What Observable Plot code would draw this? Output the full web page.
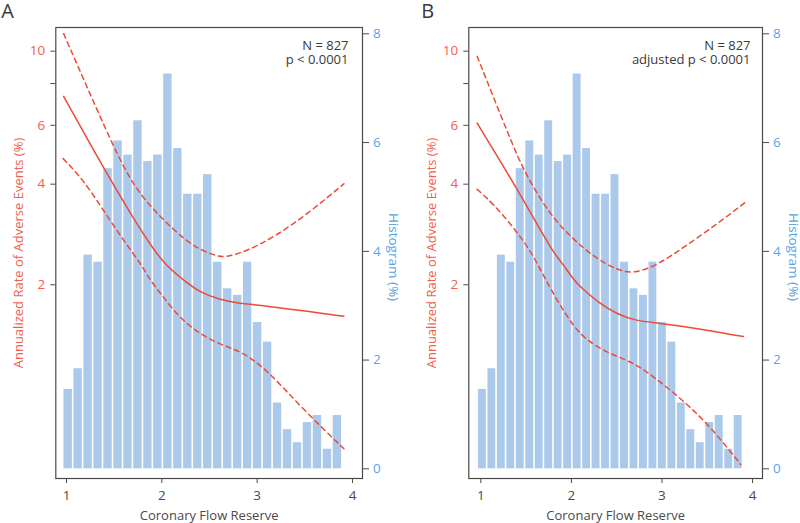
<!DOCTYPE html>
<html>
<head>
<meta charset="utf-8">
<script src="https://cdn.jsdelivr.net/npm/d3@7"></script>
<script src="https://cdn.jsdelivr.net/npm/@observablehq/plot@0.6"></script>
<style>
  body { margin: 0; background: #fff; }
  #wrap { display: flex; width: 800px; height: 523px; }
  .panel { position: relative; width: 400px; height: 523px; }
  .panel svg { position: absolute; left: 0; top: 0; }
</style>
</head>
<body>
<div id="wrap"><div class="panel" id="pa"></div><div class="panel" id="pb"></div></div>
<script>
// ---------- data ----------
const histEdges = [0.965, 1.070, 1.174, 1.279, 1.383, 1.488, 1.593, 1.697, 1.802, 1.906, 2.011, 2.116, 2.220, 2.325, 2.429,
  2.534, 2.639, 2.743, 2.848, 2.952, 3.057, 3.162, 3.266, 3.371, 3.475, 3.580, 3.685, 3.789, 3.894];
const histPercent = [1.46, 1.84, 3.93, 3.80, 5.52, 6.03, 5.77, 6.40, 5.65, 5.77, 7.26, 5.89, 5.05, 5.05, 5.41,
  3.80, 3.31, 3.19, 3.80, 2.69, 2.33, 1.21, 0.72, 0.48, 0.85, 0.98, 0.36, 0.98];

// Panel A (unadjusted): [CFR, annualized rate %]
const aEstimate = [[0.97, 7.32], [1.39, 4.46], [1.71, 3.13], [1.92, 2.53], [2.05, 2.28], [2.23, 2.06], [2.41, 1.89],
  [2.6, 1.81], [2.76, 1.77], [3.0, 1.74], [3.5, 1.67], [3.91, 1.61]];
const aUpper = [[0.97, 11.28], [1.46, 5.41], [1.67, 4.1], [1.88, 3.42], [2.13, 2.91], [2.34, 2.59], [2.55, 2.45],
  [2.67, 2.41], [2.9, 2.53], [3.18, 2.78], [3.53, 3.26], [3.91, 4.01]];
const aLower = [[0.965, 4.77], [1.18, 4.11], [1.39, 3.33], [1.6, 2.71], [1.78, 2.31], [1.87, 2.08], [1.99, 1.88],
  [2.23, 1.53], [2.58, 1.33], [2.83, 1.27], [3.11, 1.11], [3.46, 0.86], [3.91, 0.646]];

// Panel B (adjusted)
const bEstimate = [[0.96, 6.09], [1.38, 3.96], [1.62, 3.04], [1.81, 2.48], [1.88, 2.36], [2.03, 2.06], [2.1, 1.97],
  [2.32, 1.75], [2.5, 1.64], [2.69, 1.56], [3.06, 1.53], [3.9, 1.40]];
const bUpper = [[0.96, 9.65], [1.33, 5.41], [1.475, 4.39], [1.73, 3.33], [1.99, 2.78], [2.25, 2.42], [2.51, 2.21],
  [2.69, 2.16], [2.95, 2.29], [3.24, 2.59], [3.61, 3.04], [3.92, 3.53]];
const bLower = [[0.96, 3.86], [1.14, 3.49], [1.36, 2.97], [1.55, 2.53], [1.7, 2.11], [1.84, 1.80], [2.03, 1.49],
  [2.18, 1.36], [2.4, 1.25], [2.69, 1.17], [2.91, 1.06], [3.24, 0.90], [3.54, 0.75], [3.87, 0.58]];

const xTicks = [1, 2, 3, 4];
const rateTicks = [2, 4, 6, 8, 10];
const histTicks = [0, 2, 4, 6, 8];

const xTitle = "Coronary Flow Reserve";
const rateTitle = "Annualized Rate of Adverse Events (%)";
const histTitle = "Histogram (%)";
const annotA = "N = 827\np < 0.0001";
const annotB = "N = 827\nadjusted p < 0.0001";

// ---------- styling ----------
const RED = "#ee4a36";
const RED_TEXT = "#f2604e";
const BLUE_TEXT = "#5aa5e0";
const BAR = "#aac9eb";
const GRAY = "#4a4a4a";
const FONT = "'Open Sans', 'Noto Sans', sans-serif";

const bins = histPercent.map((v, i) => ({x1: histEdges[i], x2: histEdges[i + 1], v}));
const toObj = arr => arr.map(([x, y]) => ({x, y}));

function panel(el, o) {
  const common = {
    width: 400, height: 523,
    marginLeft: o.ml, marginRight: 38, marginTop: 27, marginBottom: 45,
  };
  const hist = Plot.plot({
    ...common,
    style: {fontFamily: FONT, fontSize: "13.5px", background: "transparent", overflow: "visible"},
    x: {domain: o.xd, axis: null},
    y: {domain: [-0.178, 8.116]},
    marks: [
      Plot.rectY(bins, {x1: "x1", x2: "x2", y1: 0, y2: "v", fill: BAR, insetLeft: 0.8, insetRight: 0.8}),
      Plot.axisY({anchor: "right", ticks: histTicks, tickSize: 6, tickPadding: 4.5, fill: BLUE_TEXT, stroke: GRAY, label: null}),
      Plot.text([histTitle], {text: d => d, frameAnchor: "right", textAnchor: "middle", rotate: 90, dx: 30.5, dy: 4, fill: BLUE_TEXT, fontSize: 13.5, lineAnchor: "middle"})
    ]
  });
  const curves = Plot.plot({
    ...common,
    style: {fontFamily: FONT, fontSize: "13.5px", background: "transparent", overflow: "visible"},
    x: {domain: o.xd},
    y: {type: "log", domain: [0.5266, 11.77]},
    marks: [
      Plot.frame({stroke: GRAY, strokeWidth: 1.2}),
      Plot.line(toObj(o.upper), {x: "x", y: "y", stroke: RED, strokeWidth: 1.5, strokeDasharray: "5,4", curve: "basis"}),
      Plot.line(toObj(o.lower), {x: "x", y: "y", stroke: RED, strokeWidth: 1.5, strokeDasharray: "5,4", curve: "basis"}),
      Plot.line(toObj(o.est), {x: "x", y: "y", stroke: RED, strokeWidth: 1.5, curve: "basis"}),
      Plot.axisX({ticks: xTicks, tickFormat: d => String(d), tickSize: 5, tickPadding: 7, stroke: GRAY, fill: GRAY, label: null}),
      Plot.axisY({ticks: rateTicks, tickFormat: d => String(d), tickSize: 5, tickPadding: 5.5, stroke: GRAY, fill: RED_TEXT, label: null}),
      Plot.text([xTitle], {text: d => d, frameAnchor: "bottom", textAnchor: "middle", dy: 41, fill: GRAY, fontSize: 13, lineAnchor: "bottom"}),
      Plot.text([rateTitle], {text: d => d, frameAnchor: "left", textAnchor: "middle", rotate: -90, dx: -37, fill: RED_TEXT, fontSize: 13, lineAnchor: "middle"}),
      Plot.text([o.annot], {text: d => d, frameAnchor: "top-right", textAnchor: "end", lineAnchor: "top", dx: o.adx, dy: 12.3, fill: "#3a3a3a", fontSize: 13, lineHeight: 1.1}),
      Plot.text([o.letter], {text: d => d, frameAnchor: "top-left", textAnchor: "start", lineAnchor: "top", dx: o.ldx, dy: -23.5, fill: "#3a3a3a", fontSize: 20, fontWeight: 500})
    ]
  });
  el.appendChild(hist);
  el.appendChild(curves);
}

panel(document.getElementById("pa"), {ml: 55.3, xd: [0.8878, 4.1049], est: aEstimate, upper: aUpper, lower: aLower, annot: annotA, adx: -14, letter: "A", ldx: -54.5});
panel(document.getElementById("pb"), {ml: 68.3, xd: [0.8675, 4.110], est: bEstimate, upper: bUpper, lower: bLower, annot: annotB, adx: -12, letter: "B", ldx: -47.6});
</script>
</body>
</html>
